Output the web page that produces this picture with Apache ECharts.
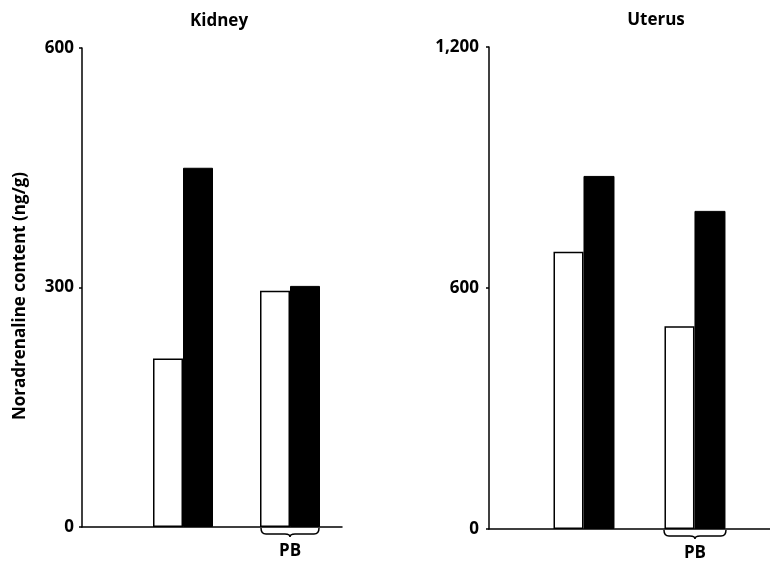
<!DOCTYPE html>
<html><head><meta charset="utf-8">
<script src="https://cdn.jsdelivr.net/npm/echarts@6/dist/echarts.min.js"></script>
<style>html,body{margin:0;padding:0;background:#fff}#c{width:770px;height:563px}</style>
</head><body><div id="c"></div>
<script>
// Data
const panelTitles = ['Kidney', 'Uterus'];
const groupIndex = [1, 2];            // 1 = control, 2 = PB-treated group
const groupLabels = ['', 'PB'];
const kidneyWhite = [211, 296];
const kidneyBlack = [450, 302];
const uterusWhite = [690, 505];
const uterusBlack = [879, 792];
const kidneyTicks = [0, 300, 600];
const uterusTicks = [0, 600, 1200];
const yAxisName = 'Noradrenaline content (ng/g)';

const FONT = 'Open Sans';
const WEIGHT = 'bold';
const pairs = (vals) => groupIndex.map((g, i) => [g, vals[i]]);

function braceSeries(xi, yi, halfW) {
  return {
    type: 'custom', xAxisIndex: xi, yAxisIndex: yi, silent: true, z: 5,
    data: [[groupIndex[1], 0]],
    renderItem: function (params, api) {
      const p = api.coord([api.value(0), 0]);
      const c = p[0], y = p[1] + 1;
      const x0 = c - halfW, x1 = c + halfW;
      const d = `M${x0} ${y} Q${x0} ${y + 6} ${x0 + 5} ${y + 6} L${c - 5} ${y + 6} Q${c} ${y + 6} ${c} ${y + 9} Q${c} ${y + 6} ${c + 5} ${y + 6} L${x1 - 5} ${y + 6} Q${x1} ${y + 6} ${x1} ${y}`;
      return { type: 'path', shape: { pathData: d }, style: { fill: 'none', stroke: '#000', lineWidth: 1.5 } };
    }
  };
}

const xCommon = {
  type: 'value', splitLine: { show: false },
  axisLine: { show: true, onZero: false, lineStyle: { color: '#000', width: 1.5 } },
  axisTick: { show: false },
  axisLabel: {
    customValues: [groupIndex[1]],
    formatter: (v) => groupLabels[groupIndex.indexOf(Math.round(v))] || '',
    color: '#000', fontFamily: FONT, fontWeight: WEIGHT, fontSize: 17, margin: 16
  }
};
function yCommon(ticks, gridIndex, margin) {
  return {
    type: 'value', gridIndex: gridIndex, min: ticks[0], max: ticks[ticks.length - 1],
    interval: ticks[1] - ticks[0], splitLine: { show: false },
    axisLine: { show: true, lineStyle: { color: '#000', width: 1.5 } },
    axisTick: { show: true, length: 3, lineStyle: { color: '#000', width: 1.5 } },
    axisLabel: {
      color: '#000', fontFamily: FONT, fontWeight: WEIGHT, fontSize: 17, margin: margin,
      formatter: (v) => v.toLocaleString('en-US')
    }
  };
}
const whiteStyle = { color: '#fff', borderColor: '#000', borderWidth: 1.5 };
const blackStyle = { color: '#000', borderColor: '#000', borderWidth: 1 };
const titleStyle = { fontFamily: FONT, fontSize: 17, fontWeight: WEIGHT, color: '#000' };
const gridBase = { outerBoundsMode: 'none', containLabel: false };

const chart = echarts.init(document.getElementById('c'));
chart.setOption({
  animation: false,
  backgroundColor: '#fff',
  title: [
    { text: panelTitles[0], left: 214, top: 8, textAlign: 'center', textStyle: titleStyle },
    { text: panelTitles[1], left: 651, top: 7, textAlign: 'center', textStyle: titleStyle }
  ],
  grid: [
    Object.assign({ left: 82, top: 48, width: 260, height: 479 }, gridBase),
    Object.assign({ left: 489, top: 47, width: 281, height: 482 }, gridBase)
  ],
  xAxis: [
    Object.assign({}, xCommon, { gridIndex: 0, min: 0.056, max: 2.486 }),
    Object.assign({}, xCommon, { gridIndex: 1, min: 0.144, max: 2.676 })
  ],
  yAxis: [
    Object.assign(yCommon(kidneyTicks, 0, 8), {
      name: yAxisName, nameLocation: 'middle', nameGap: 53, nameRotate: 90,
      nameTextStyle: { fontFamily: FONT, fontSize: 17, fontWeight: WEIGHT, color: '#000', padding: [0, 17, 0, 0] }
    }),
    yCommon(uterusTicks, 1, 10)
  ],
  series: [
    { type: 'bar', xAxisIndex: 0, yAxisIndex: 0, data: pairs(kidneyWhite), barWidth: 30, barGap: '0%', itemStyle: whiteStyle },
    { type: 'bar', xAxisIndex: 0, yAxisIndex: 0, data: pairs(kidneyBlack), barWidth: 30, barGap: '0%', itemStyle: blackStyle },
    { type: 'bar', xAxisIndex: 1, yAxisIndex: 1, data: pairs(uterusWhite), barWidth: 30, barGap: '0%', itemStyle: whiteStyle },
    { type: 'bar', xAxisIndex: 1, yAxisIndex: 1, data: pairs(uterusBlack), barWidth: 31, barGap: '0%', itemStyle: blackStyle },
    braceSeries(0, 0, 29),
    braceSeries(1, 1, 31)
  ]
});
</script></body></html>
